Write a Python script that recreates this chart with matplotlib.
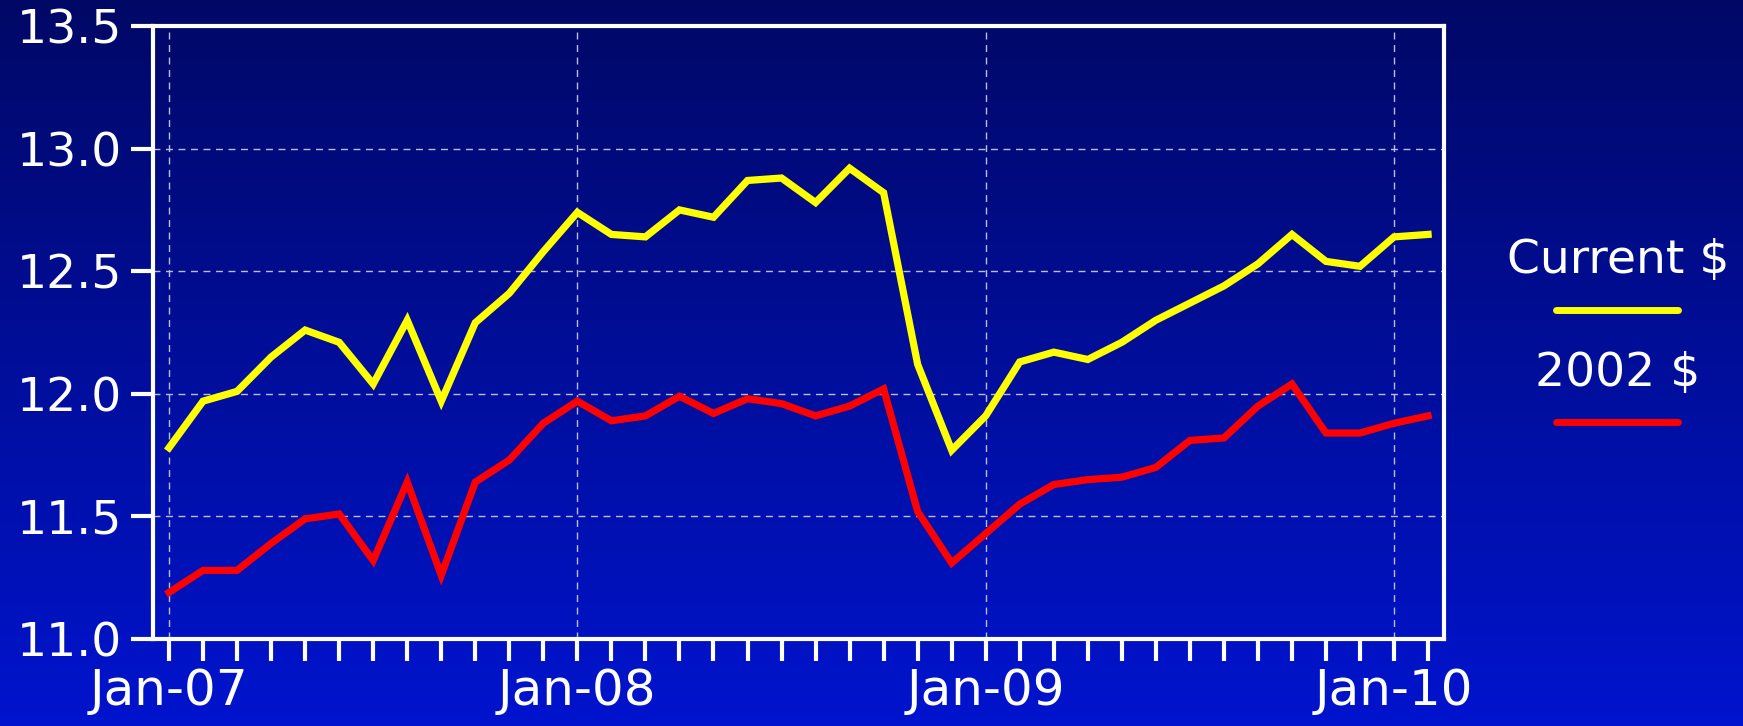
import matplotlib.pyplot as plt
import numpy as np
from matplotlib.lines import Line2D

# monthly series, Jan-07 .. Feb-10
months = ['Jan-07', 'Feb-07', 'Mar-07', 'Apr-07', 'May-07', 'Jun-07', 'Jul-07', 'Aug-07',
          'Sep-07', 'Oct-07', 'Nov-07', 'Dec-07', 'Jan-08', 'Feb-08', 'Mar-08', 'Apr-08',
          'May-08', 'Jun-08', 'Jul-08', 'Aug-08', 'Sep-08', 'Oct-08', 'Nov-08', 'Dec-08',
          'Jan-09', 'Feb-09', 'Mar-09', 'Apr-09', 'May-09', 'Jun-09', 'Jul-09', 'Aug-09',
          'Sep-09', 'Oct-09', 'Nov-09', 'Dec-09', 'Jan-10', 'Feb-10']

current = [11.78, 11.97, 12.01, 12.15, 12.26, 12.21, 12.04, 12.30, 11.97, 12.29,
           12.41, 12.58, 12.74, 12.65, 12.64, 12.75, 12.72, 12.87, 12.88, 12.78,
           12.92, 12.82, 12.12, 11.77, 11.91, 12.13, 12.17, 12.14, 12.21, 12.30,
           12.37, 12.44, 12.53, 12.65, 12.54, 12.52, 12.64, 12.65]

real2002 = [11.19, 11.28, 11.28, 11.39, 11.49, 11.51, 11.32, 11.64, 11.26, 11.64,
            11.73, 11.88, 11.97, 11.89, 11.91, 11.99, 11.92, 11.98, 11.96, 11.91,
            11.95, 12.02, 11.52, 11.31, 11.43, 11.55, 11.63, 11.65, 11.66, 11.70,
            11.81, 11.82, 11.95, 12.04, 11.84, 11.84, 11.88, 11.91]

yticks = [11.0, 11.5, 12.0, 12.5, 13.0, 13.5]

x = np.arange(len(months))
xlabels = [m if m.startswith('Jan') else '' for m in months]
jan_idx = [i for i, m in enumerate(months) if m.startswith('Jan')]

fig = plt.figure(figsize=(17.43, 7.26), dpi=100)

# gradient background
bg = fig.add_axes([0, 0, 1, 1], zorder=-10)
top = np.array([0, 8, 102]) / 255
bottom = np.array([0, 20, 206]) / 255
t = np.linspace(0, 1, 256)[:, None, None]
grad = top * (1 - t) + bottom * t
grad = np.repeat(grad, 2, axis=1)
bg.imshow(grad, aspect='auto', extent=[0, 1, 0, 1])
bg.axis('off')

ax = fig.add_axes([0.0878, 0.1198, 0.7407, 0.8444])
ax.set_facecolor('none')

ax.plot(x, current, color='#FFFF00', lw=5.2, solid_joinstyle='miter', zorder=3)
ax.plot(x, real2002, color='#FF0000', lw=5.2, solid_joinstyle='miter', zorder=3)

ax.set_xlim(-0.47, len(months) - 1 + 0.47)
ax.set_ylim(11.0, 13.5)

ax.set_xticks(x)
ax.set_xticklabels(xlabels)
ax.set_yticks(yticks)
ax.set_yticklabels([f'{v:.1f}' for v in yticks])

ax.tick_params(axis='x', colors='white', length=16, width=3, pad=4, labelsize=36)
ax.tick_params(axis='y', colors='white', length=16, width=3, pad=6, labelsize=34)
for tl in ax.xaxis.get_ticklines() + ax.yaxis.get_ticklines():
    tl.set_solid_capstyle('round')

for sp in ax.spines.values():
    sp.set_color('white')
    sp.set_linewidth(3)

# dashed grid
for v in yticks[1:-1]:
    ax.axhline(v, color='#B8BEE8', lw=1, ls=(0, (5, 4)), zorder=1)
for i in jan_idx:
    ax.axvline(i, color='#B8BEE8', lw=1, ls=(0, (5, 4)), zorder=1)

# legend to the right
fig.text(0.9283, 1 - 273 / 726, 'Current $', color='white', fontsize=34,
         ha='center', va='baseline')
fig.text(0.9283, 1 - 386 / 726, '2002 $', color='white', fontsize=34,
         ha='center', va='baseline')
fig.add_artist(Line2D([1556 / 1743, 1678 / 1743], [1 - 310 / 726, 1 - 310 / 726],
                      color='#FFFF00', lw=5, solid_capstyle='round', transform=fig.transFigure))
fig.add_artist(Line2D([1556 / 1743, 1678 / 1743], [1 - 422 / 726, 1 - 422 / 726],
                      color='#FF0000', lw=5, solid_capstyle='round', transform=fig.transFigure))

fig.savefig('out.png', dpi=100)
